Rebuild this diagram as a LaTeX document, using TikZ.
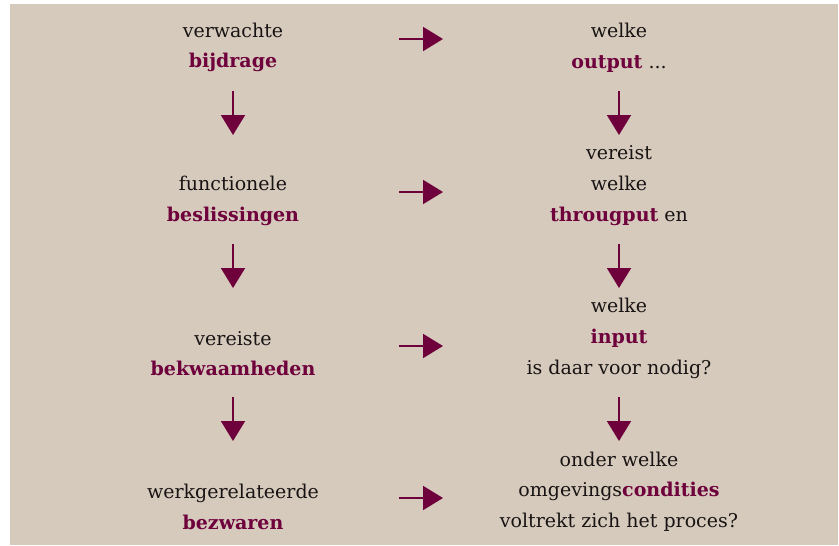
\documentclass[tikz,border=0pt]{standalone}
\usepackage{fontspec}
\setmainfont{DejaVu Serif}
\usetikzlibrary{arrows.meta}
\definecolor{bg}{RGB}{214,202,188}
\definecolor{wine}{RGB}{110,0,60}
\definecolor{ink}{RGB}{25,20,20}
\newcommand{\hl}[1]{\textbf{\color{wine}#1}}
\tikzset{
  txt/.style={align=center,font=\fontsize{19}{30.7}\selectfont,text=ink,inner sep=0pt},
  flow/.style={draw=wine,line width=2pt,-{Triangle[width=24pt,length=20pt]}}
}
\begin{document}
\begin{tikzpicture}[x=1pt,y=-1pt]
\useasboundingbox (0,0) rectangle (839,546);
\fill[bg] (10,4) rectangle (838,545);
% left column
\node[txt] (l1) at (233,47.5) {verwachte\\\hl{bijdrage}};
\node[txt] (l2) at (233,201) {functionele\\\hl{beslissingen}};
\node[txt] (l3) at (233,353.5) {vereiste\\\hl{bekwaamheden}};
\node[txt] (l4) at (233,507) {werkgerelateerde\\\hl{bezwaren}};
% right column
\node[txt] (r1) at (619,47.5) {welke\\\hl{output} ...};
\node[txt] (r2) at (619,185.5) {vereist\\welke\\\hl{througput} en};
\node[txt] (r3) at (619,338.5) {welke\\\hl{input}\\is daar voor nodig?};
\node[txt] (r4) at (619,491.5) {onder welke\\omgevings\hl{condities}\\voltrekt zich het proces?};
% arrow coordinates
\coordinate (h1s) at (399,39); \coordinate (h1e) at (443,39);
\coordinate (h2s) at (399,192); \coordinate (h2e) at (443,192);
\coordinate (h3s) at (399,346); \coordinate (h3e) at (443,346);
\coordinate (h4s) at (399,498); \coordinate (h4e) at (443,498);
\coordinate (dl1s) at (233,91); \coordinate (dl1e) at (233,135);
\coordinate (dl2s) at (233,244); \coordinate (dl2e) at (233,288);
\coordinate (dl3s) at (233,397); \coordinate (dl3e) at (233,441);
\coordinate (dr1s) at (619,91); \coordinate (dr1e) at (619,135);
\coordinate (dr2s) at (619,244); \coordinate (dr2e) at (619,288);
\coordinate (dr3s) at (619,397); \coordinate (dr3e) at (619,441);
\foreach \a in {h1,h2,h3,h4,dl1,dl2,dl3,dr1,dr2,dr3}
  \draw[flow] (\a s) -- (\a e);
\end{tikzpicture}
\end{document}
